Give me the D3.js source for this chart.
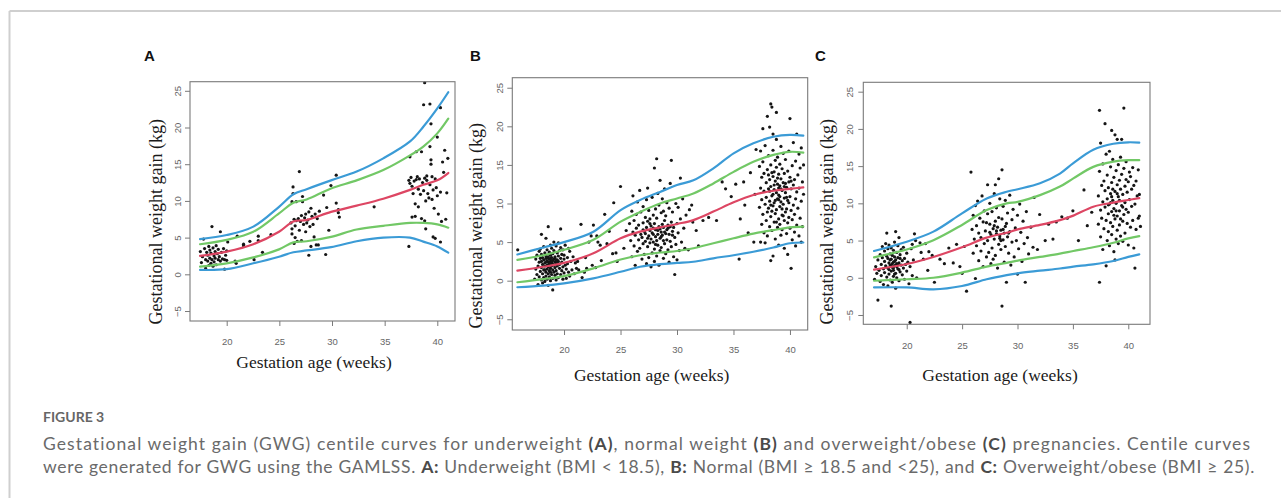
<!DOCTYPE html>
<html><head><meta charset="utf-8">
<script src="https://cdn.jsdelivr.net/npm/d3@7"></script>
<style>body{margin:0;background:#fff}svg{display:block}</style>
</head><body>
<svg id="c" width="1281" height="498"></svg>
<script>
// ---------- DATA ----------
const xTicks = [20, 25, 30, 35, 40];
const yTicks = [-5, 0, 5, 10, 15, 20, 25];
const panelLabels = ["A", "B", "C"];
const xTitle = "Gestation age (weeks)";
const yTitle = "Gestational weight gain (kg)";

// centile curves (weeks, then outer-high, inner-high, median, inner-low, outer-low)
const aWeeks = [17.47,20,22.53,24.97,26.33,27.59,29.91,32.34,34.87,37.41,38.67,40,41.04];
const aBlueHi = [4.8,5.35,6.5,9.2,10.9,11.6,12.8,14.0,15.8,18.1,20.1,22.6,24.8];
const aGreenHi = [4.1,4.7,5.8,8.3,9.75,10.2,11.7,12.8,14.2,16.2,17.4,19.2,21.2];
const aRed = [2.5,3.1,4.1,5.8,7.2,7.4,8.5,9.35,10.3,11.5,12.2,12.8,13.8];
const aGreenLo = [1.05,1.5,2.3,3.4,4.35,4.5,5.1,6.1,6.6,7.0,7.0,6.8,6.35];
const aBlueLo = [0.6,0.7,1.5,2.4,3.0,3.25,3.7,4.5,5.0,5.0,4.45,3.8,2.95];

const bWeeks = [15.87,18.17,20,22.6,25.01,26.73,28.5,30,31.45,33.22,35.01,36.76,38.53,40,41.18];
const bBlueHi = [3.4,4.3,5.0,6.35,9.15,10.45,11.5,12.4,13.0,14.55,16.5,17.8,18.65,18.9,18.8];
const bGreenHi = [2.7,3.3,4.0,5.3,7.65,8.9,10.0,10.65,11.3,12.6,14.1,15.4,16.3,16.7,16.6];
const bRed = [1.3,1.8,2.3,3.55,5.5,6.35,6.9,7.35,7.85,8.95,10.15,11.1,11.65,11.9,12.1];
const bGreenLo = [-0.2,0.2,0.6,1.6,2.75,3.3,3.65,3.85,4.2,4.85,5.5,6.1,6.55,6.9,7.0];
const bBlueLo = [-0.85,-0.65,-0.35,0.3,1.15,1.8,2.15,2.3,2.45,2.9,3.3,3.75,4.3,4.85,4.95];

const cWeeks = [17.05,20,22.41,24.99,27.22,29.02,30.02,32.03,33.83,35.04,36.84,38.65,40,40.99];
const cBlueHi = [3.6,4.85,6.2,8.65,10.65,11.55,11.9,12.7,14.0,15.4,17.2,18.0,18.2,18.15];
const cGreenHi = [2.75,3.8,5.05,7.1,9.1,10.0,10.2,11.1,12.25,13.35,14.9,15.6,15.8,15.8];
const cRed = [1.1,1.85,2.8,4.1,5.4,6.05,6.5,7.1,7.75,8.35,9.55,10.1,10.45,10.7];
const cGreenLo = [-0.4,-0.2,0,0.7,1.5,2.0,2.3,2.8,3.25,3.6,4.1,4.7,5.3,5.6];
const cBlueLo = [-1.3,-1.3,-1.55,-1.1,-0.2,0.35,0.6,0.95,1.25,1.5,1.8,2.25,2.8,3.15];

// observations [week, kg]
const aPoints = [
[17.5,3.1],[17.6,1.6],[17.7,2.4],[17.8,4.8],[17.9,3.5],[18.0,2.0],[18.0,0.8],[18.1,3.0],[18.2,1.8],[18.2,2.6],[18.3,3.8],[18.3,1.2],[18.4,2.2],[18.4,3.3],[18.5,1.5],[18.5,2.9],[18.6,6.5],[18.6,2.0],[18.7,1.1],[18.7,3.6],[18.8,2.5],[18.8,1.7],[18.9,3.1],[18.9,2.2],[19.0,3.9],[19.0,1.3],[19.1,2.8],[19.2,2.0],[19.2,3.4],[19.3,2.4],[19.4,5.8],[19.4,1.8],[19.5,3.0],[19.6,2.1],[19.7,3.5],[19.8,0.7],[19.8,2.0],[19.9,2.6],[20.0,3.2],[20.0,1.9],[20.1,4.4],[20.8,1.8],[20.9,1.5],[21.0,5.2],[21.6,3.9],[21.6,4.1],[22.2,4.5],[22.6,2.0],[23.0,5.2],[23.4,3.0],[23.0,4.6],[24.2,5.4],
[26.1,7.0],[26.2,5.5],[26.2,6.2],[26.3,11.9],[26.3,11.0],[26.4,7.5],[26.4,4.2],[26.5,5.0],[26.5,6.6],[26.6,7.3],[26.6,9.9],[26.7,4.5],[26.8,7.6],[26.9,6.0],[26.9,14.0],[27.0,7.2],[27.1,4.6],[27.1,8.0],[27.2,9.9],[27.2,10.6],[27.3,6.8],[27.4,7.7],[27.5,8.2],[27.6,7.0],[27.7,7.4],[27.8,2.6],[27.8,8.5],[27.9,6.5],[28.0,9.0],[28.1,7.9],[28.2,6.8],[28.3,5.1],[28.4,8.2],[28.5,4.0],[28.6,7.6],[28.7,4.0],[28.8,8.6],[29.2,10.8],[29.4,2.7],[29.5,9.1],[29.7,6.0],[29.9,12.1],[30.4,13.5],[30.4,9.7],[30.6,8.4],[30.7,7.8],[30.6,8.8],[28.0,3.8],[26.2,9.9],[27.5,5.8],[34.0,9.2],
[37.3,12.8],[37.4,12.4],[37.3,3.8],[37.4,16.0],[37.5,13.2],[37.6,7.8],[37.6,12.0],[37.7,11.0],[37.8,12.7],[37.9,9.6],[37.9,7.9],[38.0,16.7],[38.0,12.9],[38.1,13.3],[38.2,9.2],[38.2,11.6],[38.3,13.0],[38.4,10.9],[38.5,7.6],[38.5,16.7],[38.6,12.5],[38.7,23.1],[38.7,11.4],[38.8,13.1],[38.8,7.3],[38.9,6.2],[38.9,10.0],[39.0,12.8],[39.0,13.4],[39.1,11.0],[39.2,10.4],[39.3,17.4],[39.3,23.2],[39.3,12.2],[39.4,20.5],[39.4,15.0],[39.4,15.6],[39.5,10.2],[39.5,13.3],[39.6,5.1],[39.6,11.5],[39.7,9.0],[39.8,4.9],[39.8,13.0],[39.9,11.8],[40.0,18.7],[40.0,10.7],[40.1,8.2],[40.3,22.7],[40.3,4.4],[40.3,11.2],[40.4,7.2],[40.5,15.3],[40.6,13.9],[40.7,16.9],[40.8,7.5],[41.0,15.8],[40.9,11.1],[38.8,26.1]
];

const bPoints = [
[17.4,0.2],[17.5,1.5],[17.5,2.8],[17.6,0.8],[17.6,3.3],[17.7,1.9],[17.7,-0.5],[17.8,2.4],[17.8,0.5],[17.8,3.8],[17.9,1.2],[17.9,2.9],[17.9,4.1],[18.0,0.1],[18.0,1.7],[18.0,2.5],[18.0,6.0],[18.0,3.4],[18.1,0.9],[18.1,2.1],[18.1,-0.3],[18.1,3.0],[18.2,1.4],[18.2,2.7],[18.2,4.4],[18.2,0.4],[18.3,1.9],[18.3,3.6],[18.3,2.3],[18.3,-0.1],[18.4,5.5],[18.4,1.1],[18.4,2.9],[18.4,0.6],[18.4,3.2],[18.5,2.0],[18.5,1.5],[18.5,4.0],[18.5,2.6],[18.5,0.2],[18.6,7.0],[18.6,3.1],[18.6,1.8],[18.6,2.4],[18.6,0.9],[18.6,-0.6],[18.7,2.8],[18.7,1.3],[18.7,3.7],[18.7,2.1],[18.7,0.5],[18.8,4.6],[18.8,2.5],[18.8,1.6],[18.8,3.3],[18.8,0.0],[18.8,2.9],[18.9,1.9],[18.9,3.0],[18.9,0.8],[18.9,2.3],[18.9,4.2],[19.0,-1.2],[19.0,2.6],[19.0,1.4],[19.0,3.5],[19.0,0.3],[19.1,2.0],[19.1,5.0],[19.1,2.8],[19.1,1.1],[19.1,3.9],[19.2,0.7],[19.2,2.4],[19.2,1.7],[19.2,3.1],[19.3,4.5],[19.3,2.2],[19.3,0.1],[19.3,1.3],[19.4,3.6],[19.4,2.7],[19.4,0.9],[19.4,1.9],[19.5,4.9],[19.5,2.5],[19.5,0.4],[19.5,3.2],[19.6,1.6],[19.6,3.9],[19.6,2.1],[19.7,6.7],[19.7,0.8],[19.7,2.9],[19.7,4.3],[19.8,1.3],[19.8,2.4],[19.8,3.4],[19.9,0.2],[19.9,1.8],[19.9,4.0],[20.0,2.8],[20.0,1.0],[20.0,3.3],[20.1,2.0],[20.1,4.6],[20.2,1.5],[20.2,0.3],[20.3,3.0],[20.3,2.2],[20.4,1.1],[20.5,3.8],[20.5,0.6],[20.6,2.5],[20.7,1.4],[20.8,3.1],[20.9,0.9],[21.0,2.3],[21.1,1.6],[20.4,4.2],[19.0,2.1],[18.9,2.6],[18.7,2.3],[18.6,2.0],[18.5,3.0],[18.4,2.4],[19.2,2.9],[19.3,2.6],[18.3,1.4],[18.8,1.1],[19.4,2.2],
[15.9,4.0],[21.3,1.4],[21.5,7.3],[21.6,0.4],[21.8,1.1],[22.0,1.6],[22.2,5.0],[22.4,5.8],[22.6,7.2],[22.5,2.0],[22.8,1.7],[23.0,5.0],[23.2,4.6],[23.6,8.6],[23.3,2.6],[24.0,6.4],[24.3,3.5],[24.4,10.1],[24.7,2.5],[24.6,3.6],[25.0,12.2],[25.3,4.2],[25.5,6.5],[21.2,2.5],[22.9,5.8],[23.8,4.8],[21.9,3.0],
[25.8,7.4],[25.9,5.2],[26.0,9.0],[26.0,3.1],[26.1,6.3],[26.1,11.0],[26.2,4.5],[26.2,7.8],[26.3,2.0],[26.3,5.9],[26.4,8.6],[26.4,6.8],[26.5,3.8],[26.5,10.2],[26.6,5.3],[26.6,7.2],[26.7,11.7],[26.7,4.2],[26.8,6.0],[26.8,8.9],[26.9,2.8],[26.9,5.6],[27.0,7.5],[27.0,9.6],[27.0,4.8],[27.1,6.4],[27.1,3.4],[27.2,8.2],[27.2,5.1],[27.3,10.5],[27.3,6.9],[27.3,2.2],[27.4,12.0],[27.4,4.4],[27.4,7.7],[27.5,5.8],[27.5,9.1],[27.5,3.0],[27.6,6.5],[27.6,8.0],[27.6,4.9],[27.7,1.8],[27.7,7.1],[27.7,5.4],[27.8,10.8],[27.8,6.2],[27.8,3.6],[27.9,8.5],[27.9,5.0],[27.9,6.8],[28.0,14.6],[28.0,4.1],[28.0,7.4],[28.0,2.5],[28.1,9.3],[28.1,5.7],[28.1,6.6],[28.2,15.8],[28.2,3.2],[28.2,8.1],[28.2,5.2],[28.3,11.3],[28.3,6.0],[28.3,4.6],[28.4,7.0],[28.4,9.8],[28.4,2.0],[28.5,13.0],[28.5,5.5],[28.5,6.7],[28.5,3.9],[28.6,8.8],[28.6,6.3],[28.6,4.3],[28.7,10.6],[28.7,7.3],[28.7,5.9],[28.8,2.9],[28.8,6.9],[28.8,9.0],[28.9,4.8],[28.9,7.8],[28.9,11.9],[29.0,6.1],[29.0,3.5],[29.0,8.4],[29.1,5.3],[29.1,10.1],[29.1,6.6],[29.2,4.0],[29.2,7.2],[29.3,2.4],[29.3,9.4],[29.3,6.0],[29.4,5.1],[29.4,12.6],[29.5,15.6],[29.5,7.6],[29.5,4.4],[29.6,6.4],[29.6,8.9],[29.7,3.1],[29.7,6.9],[29.8,0.8],[29.8,5.6],[29.9,10.0],[29.9,4.7],[30.0,7.4],[30.0,2.7],[30.1,9.5],[30.1,6.2],[30.2,3.9],[30.3,8.0],[30.3,13.3],[30.4,5.0],[30.5,10.6],[30.6,6.8],[30.7,4.2],[30.8,8.5],[27.2,6.1],[27.9,6.0],[28.3,6.5],[28.6,5.7],[27.6,7.4],[28.9,6.3],[29.2,6.8],[27.4,5.5],[28.1,4.7],[28.8,5.2],[27.0,6.6],[29.4,7.0],[29.6,5.9],
[31.0,4.0],[31.1,9.2],[31.3,9.8],[31.4,7.6],[31.7,6.5],[31.9,4.5],[32.3,7.8],[32.8,8.2],[33.5,7.8],[34.0,12.8],[34.3,11.9],[34.8,10.9],[35.2,12.5],[35.5,2.8],[35.6,8.0],[36.0,9.8],[36.3,6.2],[36.5,14.0],[36.8,5.0],[37.0,17.0],[36.9,11.2],[35.9,12.8],
[37.3,14.8],[37.3,9.5],[37.4,16.8],[37.4,12.0],[37.4,5.0],[37.5,7.3],[37.5,13.4],[37.5,10.5],[37.6,19.7],[37.6,8.6],[37.6,15.4],[37.7,11.6],[37.7,6.2],[37.7,13.9],[37.8,9.9],[37.8,17.5],[37.8,4.9],[37.9,12.7],[37.9,7.8],[37.9,10.8],[38.0,21.3],[38.0,14.4],[38.0,8.9],[38.0,5.8],[38.1,11.9],[38.1,16.2],[38.1,9.4],[38.2,19.9],[38.2,13.1],[38.2,7.0],[38.2,10.3],[38.3,22.9],[38.3,2.6],[38.3,15.0],[38.3,8.3],[38.3,12.2],[38.4,22.5],[38.4,6.5],[38.4,11.0],[38.4,14.0],[38.5,19.0],[38.5,3.2],[38.5,9.7],[38.5,13.5],[38.5,16.9],[38.6,7.6],[38.6,11.8],[38.6,10.1],[38.7,15.6],[38.7,5.4],[38.7,12.9],[38.7,8.7],[38.8,21.8],[38.8,18.3],[38.8,9.2],[38.8,11.4],[38.8,14.7],[38.9,6.9],[38.9,12.5],[38.9,10.6],[38.9,16.0],[39.0,8.0],[39.0,13.8],[39.0,4.6],[39.0,11.1],[39.1,9.6],[39.1,15.1],[39.1,7.3],[39.1,12.3],[39.2,17.4],[39.2,10.2],[39.2,5.9],[39.2,13.2],[39.3,8.5],[39.3,11.7],[39.3,14.5],[39.3,6.6],[39.4,9.9],[39.4,16.5],[39.4,12.7],[39.5,7.8],[39.5,10.7],[39.5,13.9],[39.5,4.2],[39.6,11.4],[39.6,8.9],[39.6,15.7],[39.7,6.1],[39.7,12.1],[39.7,9.3],[39.8,3.4],[39.8,14.2],[39.8,10.4],[39.8,7.5],[39.9,12.8],[39.9,8.2],[39.9,16.8],[40.0,21.0],[40.0,10.9],[40.0,6.8],[40.0,13.4],[40.1,1.6],[40.1,9.1],[40.1,11.9],[40.2,14.9],[40.2,7.9],[40.2,5.3],[40.3,12.4],[40.3,9.8],[40.3,17.9],[40.4,8.6],[40.4,13.1],[40.4,6.3],[40.5,4.5],[40.5,10.6],[40.5,15.5],[40.6,19.0],[40.6,11.5],[40.6,7.2],[40.7,13.7],[40.7,9.4],[40.8,16.4],[40.8,5.8],[40.8,12.0],[40.9,8.1],[40.9,14.6],[41.0,5.0],[41.0,10.3],[41.0,17.2],[41.1,12.8],[41.1,7.0],[41.2,15.0],[41.2,11.2],[38.6,12.4],[39.0,10.5],[39.2,11.9],[38.4,9.0],[38.9,13.3],[39.4,8.4],[39.6,12.6],[38.2,11.6],[38.7,10.4],[39.1,10.9],[39.3,9.3],[38.5,11.2],[39.9,10.1],[38.1,13.7],[39.5,12.2],[38.8,7.6],[40.1,12.9],[38.3,9.8],[39.7,10.8],[38.6,14.1],[39.0,12.0]
];

const cPoints = [
[17.1,-0.2],[17.2,1.5],[17.3,0.6],[17.4,-3.0],[17.4,2.4],[17.5,1.0],[17.6,3.1],[17.6,-0.5],[17.7,1.8],[17.7,0.3],[17.8,2.7],[17.8,4.2],[17.9,1.2],[17.9,-0.9],[18.0,2.2],[18.0,0.7],[18.0,3.6],[18.1,1.6],[18.1,4.6],[18.2,6.0],[18.2,0.1],[18.2,2.9],[18.3,1.3],[18.3,3.9],[18.3,-1.1],[18.4,2.0],[18.4,0.5],[18.4,4.4],[18.5,1.7],[18.5,3.2],[18.5,-0.3],[18.6,-3.8],[18.6,2.5],[18.6,0.9],[18.6,4.0],[18.7,1.4],[18.7,3.0],[18.7,-0.6],[18.8,2.1],[18.8,0.2],[18.8,3.7],[18.8,1.0],[18.9,2.8],[18.9,4.8],[18.9,1.6],[19.0,6.2],[19.0,0.6],[19.0,2.4],[19.0,-1.4],[19.1,3.4],[19.1,1.9],[19.1,0.0],[19.2,2.7],[19.2,4.3],[19.2,1.2],[19.3,5.4],[19.3,2.0],[19.3,-0.4],[19.4,3.1],[19.4,0.8],[19.5,1.7],[19.5,3.8],[19.6,2.3],[19.6,0.4],[19.7,1.3],[19.7,4.1],[19.8,2.6],[19.8,-0.2],[19.9,1.8],[20.0,3.3],[20.0,0.9],[20.1,2.1],[20.2,-0.8],[20.3,-6.0],[20.3,1.5],[20.4,3.9],[20.5,0.3],[20.5,4.5],[20.6,2.4],[18.7,1.9],[18.9,2.2],[19.1,1.5],[18.5,2.4],[18.8,1.3],[19.2,1.8],[18.4,1.1],[19.4,2.6],[18.6,1.6],[19.0,1.7],[18.3,2.6],[18.9,0.5],[19.3,1.1],
[20.8,5.0],[20.9,0.0],[21.2,4.7],[21.5,2.5],[21.7,4.6],[21.9,1.0],[22.0,3.5],[22.3,3.0],[22.5,-0.6],[23.0,2.5],[23.4,1.9],[23.8,4.0],[24.2,2.0],[24.5,4.5],[24.8,1.5],[25.0,0.6],[25.4,-1.8],[21.3,3.4],[25.2,4.2],[20.7,5.9],
[25.8,14.2],[25.9,6.5],[26.0,8.4],[26.0,3.3],[26.1,5.2],[26.2,-0.1],[26.2,9.7],[26.3,7.0],[26.3,4.3],[26.4,10.3],[26.5,2.3],[26.5,6.0],[26.6,8.0],[26.7,3.6],[26.7,5.4],[26.8,11.0],[26.9,7.5],[26.9,1.5],[27.0,4.6],[27.0,9.0],[27.1,6.3],[27.2,2.8],[27.3,12.5],[27.3,8.6],[27.3,5.0],[27.4,3.4],[27.5,7.2],[27.5,10.0],[27.6,1.9],[27.6,5.8],[27.7,4.0],[27.7,8.9],[27.8,6.6],[27.8,2.5],[27.9,11.3],[27.9,5.2],[28.0,12.5],[28.0,7.6],[28.0,3.0],[28.1,5.9],[28.1,9.4],[28.2,1.3],[28.2,6.8],[28.3,13.3],[28.3,4.5],[28.3,8.1],[28.4,5.6],[28.4,10.6],[28.5,3.8],[28.5,6.4],[28.6,14.5],[28.6,-3.8],[28.6,7.9],[28.7,5.1],[28.7,9.6],[28.8,2.1],[28.8,6.0],[28.9,10.4],[28.9,4.2],[29.0,-0.6],[29.0,7.3],[29.1,5.5],[29.1,8.7],[29.2,3.3],[29.3,11.1],[29.3,6.2],[29.4,1.7],[29.5,7.8],[29.5,4.8],[29.6,9.2],[29.7,2.8],[29.8,6.7],[29.9,5.0],[30.0,0.5],[30.0,8.4],[30.1,3.9],[30.2,9.9],[30.3,6.1],[30.4,2.2],[30.5,7.6],[30.6,4.6],[30.7,-0.6],[30.8,8.9],[30.9,5.4],[31.0,3.2],[31.2,6.8],[31.4,4.1],[27.5,6.1],[28.1,6.3],[28.7,6.5],[27.9,7.0],[28.4,5.3],[28.9,6.9],[27.2,7.4],[29.2,6.0],[28.5,5.0],
[31.5,10.8],[31.8,3.8],[32.0,8.5],[32.5,5.0],[32.8,7.2],[33.2,5.2],[33.5,7.5],[34.0,8.2],[34.5,8.0],[35.0,9.0],[35.5,5.0],[36.0,11.8],[36.3,7.0],[36.7,8.8],
[37.3,11.0],[37.3,7.2],[37.4,22.5],[37.4,-0.6],[37.4,14.3],[37.5,9.1],[37.5,18.1],[37.5,5.5],[37.6,12.4],[37.6,8.0],[37.7,10.2],[37.7,15.3],[37.7,3.8],[37.8,6.6],[37.8,13.0],[37.9,20.7],[37.9,9.5],[37.9,11.7],[38.0,1.6],[38.0,7.7],[38.0,16.6],[38.1,10.6],[38.1,5.0],[38.1,13.8],[38.2,8.6],[38.2,12.1],[38.2,6.2],[38.3,17.0],[38.3,9.9],[38.3,4.3],[38.4,11.3],[38.4,14.9],[38.4,7.4],[38.5,19.8],[38.5,8.9],[38.5,12.8],[38.5,5.8],[38.6,10.4],[38.6,15.9],[38.6,6.9],[38.7,13.5],[38.7,9.3],[38.7,3.5],[38.8,19.2],[38.8,2.4],[38.8,11.6],[38.8,7.9],[38.9,14.4],[38.9,10.0],[38.9,5.2],[39.0,18.6],[39.0,12.5],[39.0,8.3],[39.0,6.4],[39.1,10.9],[39.1,15.2],[39.1,4.6],[39.2,13.1],[39.2,9.0],[39.2,7.1],[39.3,11.9],[39.3,16.2],[39.3,5.6],[39.4,18.6],[39.4,9.7],[39.4,13.9],[39.5,7.6],[39.5,11.2],[39.5,4.9],[39.6,22.8],[39.6,14.7],[39.6,8.5],[39.7,12.3],[39.7,10.1],[39.7,6.0],[39.8,15.6],[39.8,9.2],[39.8,13.2],[39.9,7.3],[39.9,11.5],[40.0,4.4],[40.0,12.9],[40.0,8.8],[40.1,14.2],[40.1,10.5],[40.2,6.8],[40.2,13.6],[40.3,9.6],[40.3,11.9],[40.4,7.7],[40.4,14.8],[40.5,4.0],[40.5,12.4],[40.6,1.3],[40.6,9.9],[40.7,13.0],[40.7,6.5],[40.8,11.0],[40.9,8.0],[40.9,14.5],[41.0,8.3],[41.0,11.2],[41.1,6.9],[38.4,10.1],[38.9,9.0],[39.2,10.4],[38.6,11.9],[39.5,9.5],[38.2,9.8],[39.0,11.3],[38.7,8.4],[39.3,7.9],[38.5,10.9]
];

const captionHead = "FIGURE 3";
const captionLine1 = [["Gestational weight gain (GWG) centile curves for underweight ",0],["(A)",1],[", normal weight ",0],["(B)",1],[" and overweight/obese ",0],["(C)",1],[" pregnancies. Centile curves",0]];
const captionLine2 = [["were generated for GWG using the GAMLSS. ",0],["A:",1],[" Underweight (BMI < 18.5), ",0],["B:",1],[" Normal (BMI \u2265 18.5 and <25), and ",0],["C:",1],[" Overweight/obese (BMI \u2265 25).",0]];

// ---------- LAYOUT ----------
const COLORS = {blue:"#3b9bd6", green:"#72c866", red:"#dd4663"};
const panels = [
 {label:"A", weeks:aWeeks, curves:[[aBlueHi,"blue"],[aGreenHi,"green"],[aGreenLo,"green"],[aBlueLo,"blue"],[aRed,"red"]], pts:aPoints,
  box:{l:190,r:455,t:81.7,b:321}, xd:[16.515,41.68], yd:[-6.36,26.24], yOff:12.5, xOff:20.7,
  xt:[314,367.5], yt:[161.5,221.7], lab:[144,60.7]},
 {label:"B", weeks:bWeeks, curves:[[bBlueHi,"blue"],[bGreenHi,"green"],[bGreenLo,"green"],[bBlueLo,"blue"],[bRed,"red"]], pts:bPoints,
  box:{l:512.3,r:807.7,t:77.7,b:330}, xd:[15.42,41.57], yd:[-6.39,26.3], yOff:12.3, xOff:20,
  xt:[651.7,380.5], yt:[481.5,225.8], lab:[470,60.7]},
 {label:"C", weeks:cWeeks, curves:[[cBlueHi,"blue"],[cGreenHi,"green"],[cGreenLo,"green"],[cBlueLo,"blue"],[cRed,"red"]], pts:cPoints,
  box:{l:863.3,r:1150,t:82.3,b:324.3}, xd:[16.08,41.96], yd:[-6.25,26.26], yOff:13.3, xOff:21.7,
  xt:[1000,380.5], yt:[833,221.7], lab:[815,60.7]}
];

const svg = d3.select("#c");
// frame lines
svg.append("line").attr("x1",9.5).attr("x2",1281).attr("y1",11).attr("y2",11).attr("stroke","#cfcfcf").attr("stroke-width",2);
svg.append("line").attr("x1",9.5).attr("x2",9.5).attr("y1",11).attr("y2",498).attr("stroke","#cfcfcf").attr("stroke-width",2);

panels.forEach(p => {
  const x = d3.scaleLinear().domain(p.xd).range([p.box.l, p.box.r]);
  const y = d3.scaleLinear().domain(p.yd).range([p.box.b, p.box.t]);
  const g = svg.append("g");

  // points
  g.append("g").selectAll("circle").data(p.pts).join("circle")
    .attr("cx", d => x(d[0])).attr("cy", d => y(d[1])).attr("r", 1.6).attr("fill", "#151515");

  // curves
  const line = d3.line().x(d => x(d[0])).y(d => y(d[1])).curve(d3.curveCatmullRom.alpha(0.5));
  p.curves.forEach(([vals, col]) => {
    g.append("path").datum(p.weeks.map((w,i) => [w, vals[i]]))
      .attr("d", line).attr("fill","none").attr("stroke", COLORS[col]).attr("stroke-width", 2.2)
      .attr("stroke-linejoin","round").attr("stroke-linecap","round");
  });

  // box
  g.append("rect").attr("x",p.box.l).attr("y",p.box.t).attr("width",p.box.r-p.box.l).attr("height",p.box.b-p.box.t)
    .attr("fill","none").attr("stroke","#7a7a7a").attr("stroke-width",1.1);

  // x axis
  const xa = g.append("g").attr("transform",`translate(0,${p.box.b})`)
    .call(d3.axisBottom(x).tickValues(xTicks).tickSize(5).tickFormat(d3.format("d")));
  xa.select(".domain").remove();
  xa.selectAll(".tick line").attr("stroke","#7a7a7a");
  xa.selectAll(".tick text").attr("y", p.xOff).attr("dy","0.35em")
    .attr("fill","#666").style("font-family","'Liberation Sans', Arial, sans-serif").style("font-size","9.5px");

  // y axis
  const ya = g.append("g").attr("transform",`translate(${p.box.l},0)`)
    .call(d3.axisLeft(y).tickValues(yTicks).tickSize(5).tickFormat(d3.format("d")));
  ya.select(".domain").remove();
  ya.selectAll(".tick line").attr("stroke","#7a7a7a");
  ya.selectAll(".tick text").attr("transform","rotate(-90)").attr("x",0).attr("y",-p.yOff).attr("dy","0.35em")
    .attr("text-anchor","middle").attr("fill","#666")
    .style("font-family","'Liberation Sans', Arial, sans-serif").style("font-size","9.5px");

  // titles
  g.append("text").attr("x",p.xt[0]).attr("y",p.xt[1]).attr("text-anchor","middle")
    .style("font-family","'Liberation Serif','Times New Roman',serif").style("font-size","17.5px").attr("fill","#1a1a1a").text(xTitle);
  g.append("text").attr("transform",`translate(${p.yt[0]},${p.yt[1]}) rotate(-90)`).attr("text-anchor","middle")
    .style("font-family","'Liberation Serif','Times New Roman',serif").style("font-size","18px").attr("fill","#1a1a1a").text(yTitle);

  // panel label
  g.append("text").attr("x",p.lab[0]).attr("y",p.lab[1])
    .style("font-family","'Liberation Sans', Arial, sans-serif").style("font-weight","bold").style("font-size","15px")
    .attr("fill","#111").text(p.label);
});

// caption
const capFont = "Lato, 'Open Sans', sans-serif";
svg.append("text").attr("x",43).attr("y",422.3).style("font-family",capFont).style("font-weight","700")
  .style("font-size","14px").attr("fill","#666").text(captionHead);

function captionLine(parts, yPos, size){
  const t = svg.append("text").attr("x",43).attr("y",yPos).style("font-family",capFont).style("font-size",size+"px").attr("fill","#6a6a6a");
  parts.forEach(([s,b]) => {
    const ts = t.append("tspan").text(s);
    if (b) ts.style("font-weight","700").attr("fill","#4a4a4a");
  });
  return t;
}
function fitLine(t, target, nChars){
  const w = t.node().getComputedTextLength();
  t.style("letter-spacing", ((target - w) / nChars) + "px");
}
const len = parts => parts.map(d => d[0]).join("").length;
const baseSize = 17.5;
const l1 = captionLine(captionLine1, 449.5, baseSize);
const l2 = captionLine(captionLine2, 472.7, baseSize);
fitLine(l1, 1209, len(captionLine1));
fitLine(l2, 1212, len(captionLine2));
</script>
</body></html>
